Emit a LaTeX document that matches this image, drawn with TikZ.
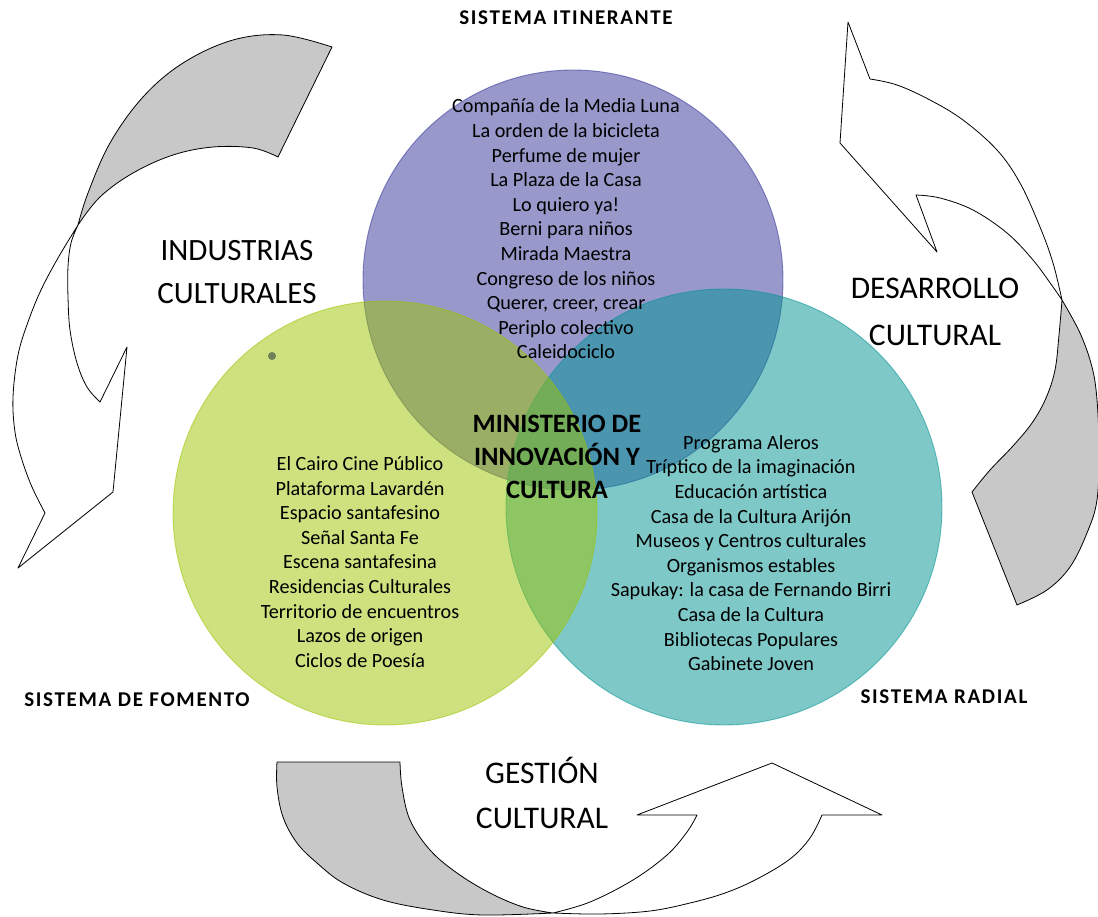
\documentclass[tikz,border=0pt]{standalone}
\usepackage{fontspec}
\setmainfont{Carlito}
\definecolor{vpurple}{RGB}{51,51,153}
\definecolor{vgreen}{RGB}{157,197,1}
\definecolor{vteal}{RGB}{0,147,147}
\definecolor{arrowgray}{RGB}{200,200,200}
\definecolor{dotc}{RGB}{110,128,88}
\begin{document}
\begin{tikzpicture}[x=1pt,y=-1pt,
  venn/.style={circle, inner sep=0pt, fill opacity=0.5, draw opacity=0.55, line width=0.9pt},
  arrowback/.style={draw=black, line width=0.8pt, fill=arrowgray, line join=round},
  arrowfront/.style={draw=black, line width=0.8pt, fill=white, line join=round},
  listtext/.style={align=center, inner sep=0pt, font=\fontsize{20.2}{24.6}\selectfont},
  centertext/.style={align=center, inner sep=0pt, font=\bfseries\fontsize{26.5}{33}\selectfont},
  biglabel/.style={align=center, inner sep=0pt, font=\fontsize{31.5}{45}\selectfont},
  syslabel/.style={inner sep=0pt, font=\bfseries\fontsize{21}{24}\selectfont\addfontfeature{LetterSpace=8}}]
\useasboundingbox (0,0) rectangle (1098,917);
\fill[white] (0,0) rectangle (1098,917);

% ---- left arrow (Industrias culturales)
\draw[arrowback] plot[smooth, tension=0.6] coordinates {(332,47) (283,35) (233,40) (183,63) (143,97) (110,143) (88,193) (78,225)}
  -- plot[smooth, tension=0.6] coordinates {(78,225) (100,197) (133,173) (173,155) (213,147) (253,148) (278,157)} -- cycle;
\draw[arrowfront] plot[smooth, tension=0.6] coordinates {(78,225) (58,258) (41,290) (28,322) (18,355) (13,397) (15,432) (22,460) (32,487) (45,513)}
  -- (18,568) -- (113,492) -- (127,347) -- (100,402)
  -- plot[smooth, tension=0.6] coordinates {(100,402) (87,387) (77,363) (70,330) (68,297) (68,267) (71,243) (78,225)} -- cycle;

% ---- right arrow (Desarrollo cultural)
\draw[arrowback] plot[smooth, tension=0.6] coordinates {(1062,300) (1080,333) (1092,367) (1097,400) (1099,450) (1097,500) (1087,533) (1070,567) (1047,590) (1017,605)}
  -- (972,492)
  -- plot[smooth, tension=0.6] coordinates {(972,492) (990,470) (1012,447) (1032,423) (1046,398) (1055,370) (1059,335) (1062,300)} -- cycle;
\draw[arrowfront] (848,22) -- (870,79)
  -- plot[smooth, tension=0.6] coordinates {(870,79) (897,85) (930,100) (963,120) (997,150) (1020,183) (1040,227) (1053,263) (1062,300)}
  -- plot[smooth, tension=0.6] coordinates {(1062,300) (1053,287) (1033,260) (1007,233) (973,210) (940,198) (916,195)}
  -- (937,252) -- (840,143) -- cycle;

% ---- bottom arrow (Gestion cultural)
\draw[arrowback] (277,762) -- (400,762)
  -- plot[smooth, tension=0.6] coordinates {(400,762) (402,787) (410,820) (430,850) (457,873) (490,893) (523,907) (553,913)}
  -- plot[smooth, tension=0.6] coordinates {(553,913) (483,915) (433,910) (383,900) (343,883) (317,863) (297,843) (283,817) (277,787) (277,762)} -- cycle;
\draw[arrowfront] plot[smooth, tension=0.6] coordinates {(553,913) (600,914) (650,911) (690,903) (725,893) (757,879) (790,859) (810,838) (822,815)}
  -- (882,815) -- (772,763) -- (637,815) -- (697,815)
  -- plot[smooth, tension=0.6] coordinates {(697,815) (687,832) (667,855) (633,880) (590,902) (553,913)} -- cycle;

% ---- Venn circles
\node[venn, fill=vpurple, draw=vpurple, minimum size=420pt] (itinerante) at (573,280) {};
\node[venn, fill=vteal, draw=vteal, minimum size=436pt] (radial) at (724,507) {};
\node[venn, fill=vgreen, draw=vgreen, minimum size=424pt] (fomento) at (385,513) {};
\fill[dotc] (272,356) circle (4);

% ---- circle contents
\node[listtext] (listP) at (566,229) {Compañía de la Media Luna\\La orden de la bicicleta\\Perfume de mujer\\La Plaza de la Casa\\Lo quiero ya!\\Berni para niños\\Mirada Maestra\\Congreso de los niños\\Querer, creer, crear\\Periplo colectivo\\Caleidociclo};
\node[listtext] (listG) at (360,562) {El Cairo Cine Público\\Plataforma Lavardén\\Espacio santafesino\\Señal Santa Fe\\Escena santafesina\\Residencias Culturales\\Territorio de encuentros\\Lazos de origen\\Ciclos de Poesía};
\node[listtext] (listT) at (751,553) {Programa Aleros\\Tríptico de la imaginación\\Educación artística\\Casa de la Cultura Arijón\\Museos y Centros culturales\\Organismos estables\\Sapukay: la casa de Fernando Birri\\Casa de la Cultura\\Bibliotecas Populares\\Gabinete Joven};
\node[centertext] (ministerio) at (557,457) {MINISTERIO DE\\INNOVACIÓN Y\\CULTURA};

% ---- labels
\node[biglabel, font=\fontsize{31}{43}\selectfont] (industrias) at (237,272) {INDUSTRIAS\\CULTURALES};
\node[biglabel, font=\fontsize{31.5}{47}\selectfont] (desarrollo) at (935,312) {DESARROLLO\\CULTURAL};
\node[biglabel] (gestion) at (542,793) {GESTIÓN\\CULTURAL};
\node[syslabel] (sisIt) at (566,18) {SISTEMA ITINERANTE};
\node[syslabel] (sisFo) at (137,700) {SISTEMA DE FOMENTO};
\node[syslabel] (sisRa) at (944,697) {SISTEMA RADIAL};
\end{tikzpicture}
\end{document}
